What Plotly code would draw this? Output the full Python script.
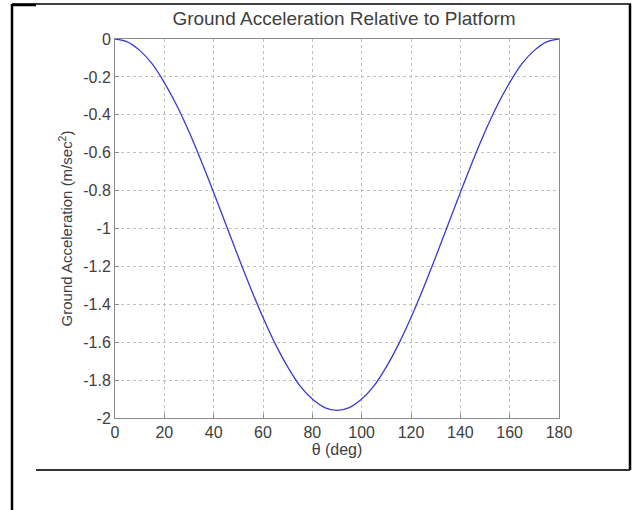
import plotly.graph_objects as go

theta_deg = [0, 5, 10, 15, 20, 25, 30, 35, 40, 45, 50, 55, 60, 65, 70, 75, 80, 85, 90,
             95, 100, 105, 110, 115, 120, 125, 130, 135, 140, 145, 150, 155, 160, 165, 170, 175, 180]
accel = [0, -0.015, -0.06, -0.13, -0.23, -0.35, -0.49, -0.645, -0.81, -0.98, -1.15, -1.315, -1.47,
         -1.61, -1.73, -1.83, -1.90, -1.945, -1.96,
         -1.945, -1.90, -1.83, -1.73, -1.61, -1.47, -1.315, -1.15, -0.98, -0.81, -0.645, -0.49,
         -0.35, -0.23, -0.13, -0.06, -0.015, 0]

x_ticks = [0, 20, 40, 60, 80, 100, 120, 140, 160, 180]
y_ticks = [0, -0.2, -0.4, -0.6, -0.8, -1, -1.2, -1.4, -1.6, -1.8, -2]
y_tick_text = ["0", "-0.2", "-0.4", "-0.6", "-0.8", "-1", "-1.2", "-1.4", "-1.6", "-1.8", "-2"]

W, H = 641, 510
L, R, T, B = 115, 559, 39, 418

def px(x):
    return (x - L) / (R - L)

def py(y):
    return (B - y) / (B - T)

fig = go.Figure()
fig.add_trace(go.Scatter(x=theta_deg, y=accel, mode="lines",
                         line=dict(color="#3a3ad0", width=1.3, shape="spline"),
                         showlegend=False))

font_color = "#404040"
fig.update_layout(
    width=W, height=H,
    margin=dict(l=L, r=W - R, t=T, b=H - B),
    paper_bgcolor="white", plot_bgcolor="white",
    font=dict(family="Liberation Sans, Arial, sans-serif", size=16, color=font_color),
    title=dict(text="Ground Acceleration Relative to Platform", x=(173 + 515) / 2 / W, xanchor="center",
               y=1 - 18 / H, yanchor="middle", font=dict(size=19, color=font_color)),
    xaxis=dict(range=[0, 180], tickvals=x_ticks, showgrid=True, gridcolor="#c0c0c0", griddash="dot",
               gridwidth=1, showline=True, linecolor="#8a8a8a", linewidth=1, mirror=True,
               ticks="inside", ticklen=4, tickcolor="#8a8a8a", zeroline=False,
               title=dict(text="θ (deg)", standoff=0, font=dict(size=16)),
               tickfont=dict(size=16)),
    yaxis=dict(range=[-2, 0], tickvals=y_ticks, ticktext=y_tick_text, showgrid=True,
               gridcolor="#c0c0c0", griddash="dot", gridwidth=1, showline=True, linecolor="#8a8a8a",
               linewidth=1, mirror=True, ticks="inside", ticklen=4, tickcolor="#8a8a8a",
               zeroline=False,
               title=dict(text="Ground Acceleration (m/sec<sup>2</sup>)", standoff=6, font=dict(size=15)),
               tickfont=dict(size=16)),
)

# outer frame lines
frame = [
    (12, 4, 12, 510, 2.5, "black"),
    (12, 4, 631, 4, 1.5, "black"),
    (12, 5, 36, 5, 2.5, "black"),
    (630, 4, 630, 470, 2.5, "black"),
    (36, 470, 630, 470, 2, "#333333"),
]
for x0, y0, x1, y1, w, c in frame:
    fig.add_shape(type="line", xref="paper", yref="paper",
                  x0=px(x0), y0=py(y0), x1=px(x1), y1=py(y1),
                  line=dict(color=c, width=w), layer="above")

fig.write_html("out.html")
